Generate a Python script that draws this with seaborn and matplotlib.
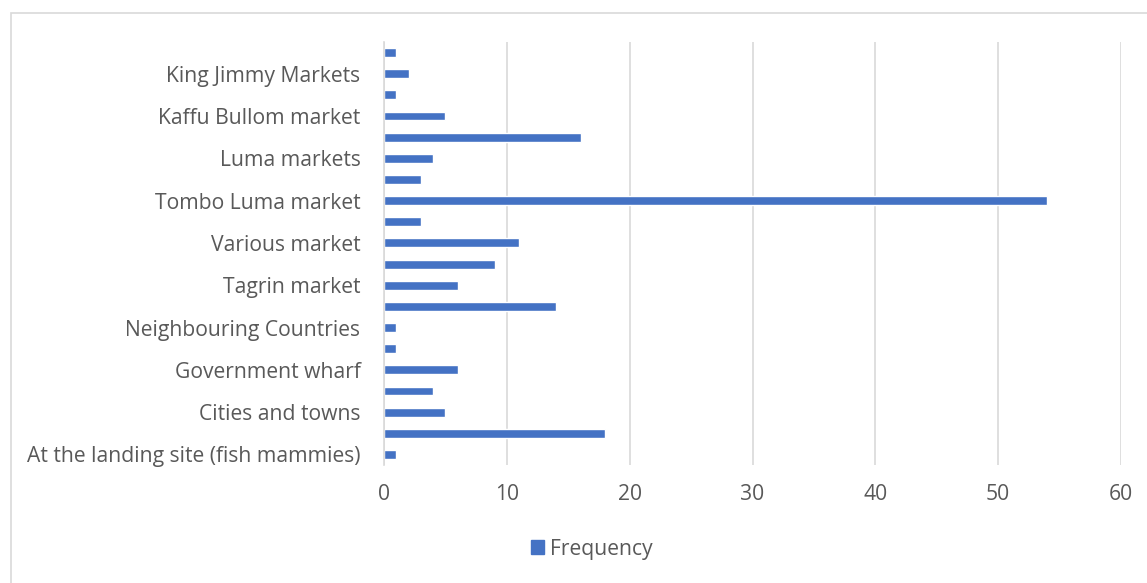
import matplotlib
matplotlib.use("Agg")
import matplotlib.pyplot as plt
from matplotlib.patches import Rectangle, Patch
import seaborn as sns
import pandas as pd

# Destinations, listed top to bottom; every other bar carries a visible label
labels = ["", "King Jimmy Markets", "", "Kaffu Bullom market", "",
          "Luma markets", "", "Tombo Luma market", "", "Various market",
          "", "Tagrin market", "", "Neighbouring Countries", "",
          "Government wharf", "", "Cities and towns", "",
          "At the landing site (fish mammies)"]
frequency = [1, 2, 1, 5, 16, 4, 3, 54, 3, 11, 9, 6, 14, 1, 1, 6, 4, 5, 18, 1]
x_ticks = [0, 10, 20, 30, 40, 50, 60]

BAR = "#4472C4"
GRID = "#D9D9D9"
TEXT = "#595959"
FS = 15.2

sns.set_theme(style="white")
plt.rcParams["font.family"] = ["Open Sans", "DejaVu Sans"]

df = pd.DataFrame({"slot": [str(i) for i in range(len(frequency))],
                   "frequency": frequency})

fig = plt.figure(figsize=(11.47, 5.83), dpi=100)
ax = fig.add_axes([384 / 1147, 1 - 465 / 583, (1121 - 384) / 1147, (465 - 42) / 583])

sns.barplot(data=df, x="frequency", y="slot", orient="h", color=BAR,
            saturation=1, width=0.42, ax=ax)

ax.set_xlim(0, 60)
ax.set_xticks(x_ticks)
ax.set_yticks(range(len(labels)))
ax.set_yticklabels(labels)
ax.set_xlabel("")
ax.set_ylabel("")
ax.grid(axis="x", color=GRID, linewidth=1.2)
ax.set_axisbelow(True)
for side in ["top", "right", "bottom"]:
    ax.spines[side].set_visible(False)
ax.spines["left"].set_color(GRID)
ax.spines["left"].set_linewidth(1.2)
ax.tick_params(axis="y", length=0, pad=17, labelsize=FS, labelcolor=TEXT)
ax.tick_params(axis="x", length=0, pad=14, labelsize=FS, labelcolor=TEXT)

# Chart-area frame
fig.patches.append(Rectangle((11 / 1147, -0.1), 1.2, (1 - 13 / 583) + 0.1,
                             transform=fig.transFigure, fill=False,
                             edgecolor=GRID, linewidth=1.2))

fig.legend(handles=[Patch(facecolor=BAR, edgecolor=BAR, label="Frequency")],
           loc="center", bbox_to_anchor=(592 / 1147, 1 - 549 / 583),
           frameon=False, fontsize=FS, labelcolor=TEXT,
           handlelength=0.6, handleheight=0.6, handletextpad=0.3)

fig.savefig("out.png", dpi=100)
